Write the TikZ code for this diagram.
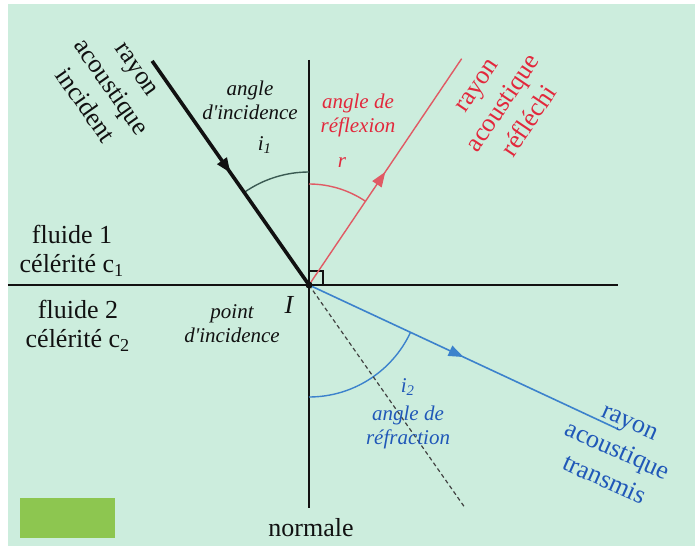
\documentclass[tikz,border=0pt]{standalone}
\usepackage{fontspec}
\setmainfont{Liberation Serif}
\usetikzlibrary{arrows.meta,positioning,calc,decorations.markings}
\definecolor{acMint}{HTML}{CCEDDD}
\definecolor{acInk}{HTML}{111111}
\definecolor{acRed}{HTML}{E2283C}
\definecolor{acRedLine}{HTML}{E05A64}
\definecolor{acBlue}{HTML}{2058B8}
\definecolor{acBlueLine}{HTML}{3C82CC}
\definecolor{acGreen}{HTML}{8DC650}
\definecolor{acArc}{HTML}{3A5A52}
\tikzset{
  big/.style={font=\fontsize{13}{14.5}\selectfont, align=center, inner sep=1pt, text=acInk},
  raylbl/.style={big, font=\fontsize{13}{16}\selectfont},
  ital/.style={font=\fontsize{10.5}{12}\selectfont\itshape, align=center, inner sep=1pt, text=acInk},
  midarr/.style={postaction={decorate}, decoration={markings, mark=at position #1 with {\arrow{Triangle[length=7.5pt,width=5.5pt]}}}},
  thinln/.style={line width=0.75pt, draw=acInk},
}

\begin{document}
\begin{tikzpicture}[x=0.5pt,y=0.5pt]
  % fond
  \fill[white] (-309,-261) rectangle (386,285);
  \fill[acMint] (-301,-261) rectangle (386,281);
  \coordinate (I) at (0,0);
  \coordinate (nTop) at (0,225);
  \coordinate (nBot) at (0,-223);
  \coordinate (sL) at (-301,0);
  \coordinate (sR) at (309,0);
  \coordinate (incA) at (125:273.5);
  \coordinate (refB) at (56:273);
  \coordinate (traB) at (-25:341);
  \coordinate (dashB) at (-55:270);
  % normale et surface
  \draw[thinln] (nTop) -- (nBot);
  \draw[line width=1.3pt, draw=acInk] (sL) -- (sR);
  \draw[line width=0.6pt, draw=acInk] (I) rectangle ++(14,14);
  % angles
  \draw[line width=0.7pt, acArc] ($(I)+(90:113)$) arc[start angle=90, end angle=125, radius=113];
  \draw[line width=0.7pt, acRedLine] ($(I)+(90:101)$) arc[start angle=90, end angle=56, radius=101];
  \draw[line width=0.7pt, acBlueLine] ($(I)+(270:112)$) arc[start angle=270, end angle=335, radius=112];
  % rayons
  \draw[line width=0.6pt, dash pattern=on 2pt off 1.5pt, draw=acInk!80] (I) -- (dashB);
  \draw[line width=1.8pt, acInk, midarr=0.5] (incA) -- (I);
  \draw[line width=0.7pt, acRedLine, midarr=0.5] (I) -- (refB);
  \draw[line width=0.8pt, acBlueLine, midarr=0.5] (I) -- (traB);
  \fill[acInk] (I) circle (3.5);
  % textes
  \node[raylbl, rotate=-55] (incLbl) at (-199,197) {rayon\\acoustique\\incident};
  \node[raylbl, rotate=56, text=acRed] (refLbl) at (195,181) {rayon\\acoustique\\réfléchi};
  \node[raylbl, rotate=-24, text=acBlue] (traLbl) at (308,-167) {rayon\\acoustique\\transmis};
  \node[big] (fl1) at (-237,34) {fluide 1\\célérité c\textsubscript{1}};
  \node[big] (fl2) at (-231,-41) {fluide 2\\célérité c\textsubscript{2}};
  \node[ital] (angInc) at (-59,185) {angle\\d\textquotesingle incidence};
  \node[ital] (iOne) at (-44,140) {i\textsubscript{1}};
  \node[ital, text=acRed] (angRef) at (49,170) {angle de\\réflexion};
  \node[ital, text=acRed] (rLbl) at (33,122) {r};
  \node[ital] (ptInc) at (-77,-39) {point\\d\textquotesingle incidence};
  \node[big, font=\fontsize{13}{14.5}\selectfont\itshape] (ILbl) at (-20,-20) {I};
  \node[ital, text=acBlue] (iTwo) at (99,-102) {i\textsubscript{2}};
  \node[ital, text=acBlue] (angTra) at (99,-142) {angle de\\réfraction};
  \node[big] (norm) at (2,-243) {normale};
  \fill[acGreen] (-289,-213) rectangle (-194,-253);
\end{tikzpicture}
\end{document}
